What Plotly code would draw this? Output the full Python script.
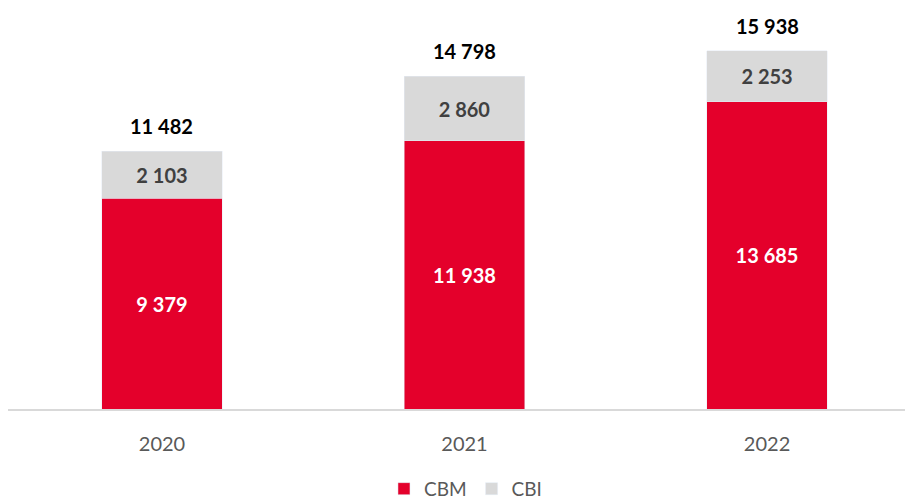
import plotly.graph_objects as go

annees = ["2020", "2021", "2022"]
cbm = [9379, 11938, 13685]
cbi = [2103, 2860, 2253]
totaux = [11482, 14798, 15938]


def fmt(v):
    return f"{v:,}".replace(",", " ")


police = "Lato, Carlito, Calibri, sans-serif"

fig = go.Figure()
fig.add_trace(go.Bar(
    x=annees, y=cbm, name="CBM", marker_color="#E4002B", width=0.397,
    text=[fmt(v) for v in cbm], textposition="inside", insidetextanchor="middle",
    textfont=dict(color="white", size=20, family=police, weight="bold"),
))
fig.add_trace(go.Bar(
    x=annees, y=cbi, name="CBI", marker_color="#D9D9D9", width=0.397,
    text=[fmt(v) for v in cbi], textposition="inside", insidetextanchor="middle",
    textfont=dict(color="#404040", size=20, family=police, weight="bold"),
))

for i, t in enumerate(totaux):
    fig.add_annotation(x=i, y=t, xref="x", yref="y", text=fmt(t), showarrow=False,
                       yanchor="bottom", yshift=11,
                       font=dict(color="black", size=20, family=police, weight="bold"))

fig.update_layout(
    barmode="stack",
    width=905, height=501,
    margin=dict(l=8, r=0, t=10, b=92, autoexpand=False),
    plot_bgcolor="white", paper_bgcolor="white",
    font=dict(family=police, color="#595959", size=18),
    legend=dict(orientation="h", x=0.51, xanchor="center", y=-0.2, yanchor="middle",
                font=dict(size=19, color="#595959"), itemwidth=30, traceorder="normal"),
)
fig.update_xaxes(type="category", range=[-0.509, 2.456], showline=True, linecolor="#D9D9D9",
                 linewidth=2, ticks="", ticklabelstandoff=16,
                 tickfont=dict(size=20, color="#595959"))
fig.update_yaxes(range=[0, 17757], visible=False, showgrid=False)

# la page a une marge de 8 px par défaut
fig.write_html("out.html", config={"displayModeBar": False},
               post_script="document.body.style.margin='0';")
